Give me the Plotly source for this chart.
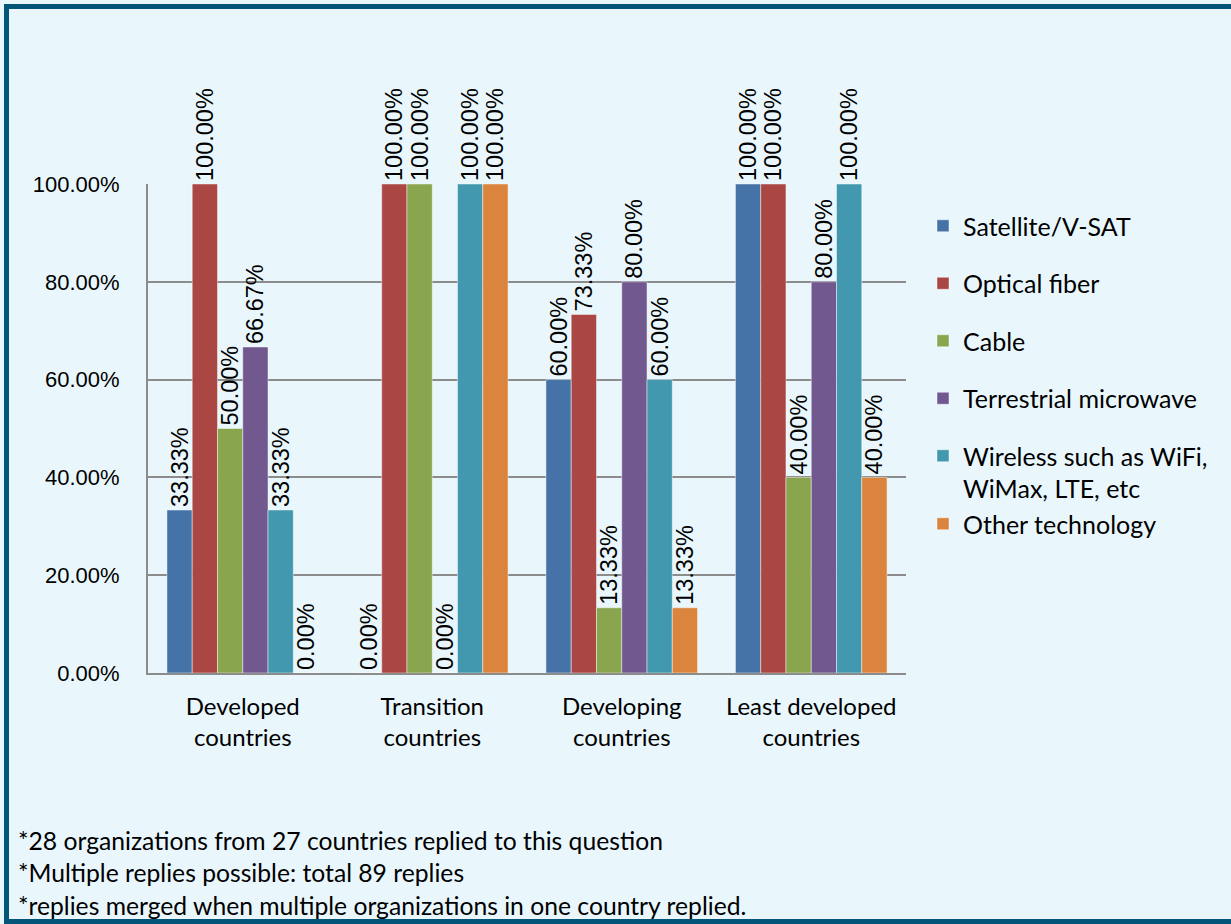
import plotly.graph_objects as go

# Share of respondents using each backbone technology, by country group (%)
categories = ["Developed<br>countries", "Transition<br>countries",
              "Developing<br>countries", "Least developed<br>countries"]
satellite = [33.33, 0.00, 60.00, 100.00]
optical_fiber = [100.00, 100.00, 73.33, 100.00]
cable = [50.00, 100.00, 13.33, 40.00]
microwave = [66.67, 0.00, 80.00, 80.00]
wireless = [33.33, 100.00, 60.00, 100.00]
other = [0.00, 100.00, 13.33, 40.00]

y_ticks = [0, 20, 40, 60, 80, 100]
y_tick_labels = ["0.00%", "20.00%", "40.00%", "60.00%", "80.00%", "100.00%"]

series = [
    ("Satellite/V-SAT", satellite, "#4572A7", "g1"),
    ("Optical fiber", optical_fiber, "#AA4643", "g2"),
    ("Cable", cable, "#89A54E", "g3"),
    ("Terrestrial microwave", microwave, "#71588F", "g4"),
    ("Wireless such as WiFi,<br>WiMax, LTE, etc", wireless, "#4198AF", "g5"),
    ("Other technology", other, "#DB843D", "g5"),
]

bg = "#E9F7FD"
grid = "#8C8C8C"
label_font = "Liberation Sans"
text_font = "Lato"

fig = go.Figure()
for name, vals, color, group in series:
    fig.add_trace(go.Bar(
        name=name, x=categories, y=vals,
        marker=dict(color=color, line=dict(color="rgba(255,255,255,0.45)", width=1)),
        texttemplate="%{y:.2f}%", textposition="outside", textangle=-90,
        textfont=dict(family=label_font, size=23.5, color="black"),
        constraintext="none", cliponaxis=False,
        legendgroup=group,
    ))

W, H = 1231, 924
L, R, T, B = 148, 906, 184, 673
pw, ph = R - L, B - T


def px(x):
    return (x - L) / pw


def py(y):
    return (B - y) / ph


footnotes = [
    "*28 organizations from 27 countries replied to this question",
    "*Multiple replies possible: total 89 replies",
    "*replies merged when multiple organizations in one country replied.",
]
foot_y = [840, 872, 905]

annotations = [
    dict(text=t, x=px(16), y=py(yy), xref="paper", yref="paper",
         xanchor="left", yanchor="middle", showarrow=False,
         font=dict(family=text_font, size=24.7, color="black"))
    for t, yy in zip(footnotes, foot_y)
]

fig.update_layout(
    width=W, height=H,
    margin=dict(l=L, r=W - R, t=T, b=H - B, pad=0),
    paper_bgcolor=bg, plot_bgcolor=bg,
    barmode="group", bargap=0.2, bargroupgap=0,
    showlegend=True,
    legend=dict(x=px(923), y=py(203), xanchor="left", yanchor="top",
                xref="paper", yref="paper", bgcolor="rgba(0,0,0,0)",
                font=dict(family=text_font, size=25, color="black"),
                tracegroupgap=22, valign="top", itemclick=False),
    xaxis=dict(showline=True, linecolor=grid, linewidth=2, ticks="",
               tickfont=dict(family=text_font, size=24, color="black"),
               ticklabelstandoff=11, showgrid=False),
    yaxis=dict(range=[0, 100], tickvals=y_ticks, ticktext=y_tick_labels,
               showline=True, linecolor=grid, linewidth=2,
               showgrid=True, gridcolor=grid, gridwidth=1.5,
               zeroline=False, ticks="", ticklabelstandoff=22,
               tickfont=dict(family=label_font, size=22, color="black")),
    annotations=annotations,
    shapes=[dict(type="rect", xref="paper", yref="paper",
                 x0=px(6.5), x1=px(1260), y0=py(921.5), y1=py(6.5),
                 line=dict(color="#04557A", width=5), layer="below")],
)

fig.write_html("out.html")
